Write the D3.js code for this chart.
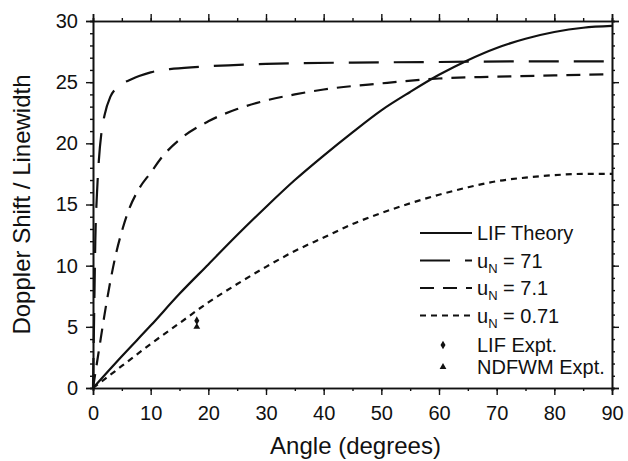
<!DOCTYPE html>
<html>
<head>
<meta charset="utf-8">
<script src="https://cdn.jsdelivr.net/npm/d3@7"></script>
<style>
  body { margin: 0; background: #fff; }
  text { font-family: "Liberation Sans", Arial, sans-serif; fill: #111; }
</style>
</head>
<body>
<div id="chart"></div>
<script>
var margin = {top: 21, right: 16, bottom: 73, left: 93},
    width = 628 - margin.left - margin.right,
    height = 461 - margin.top - margin.bottom;

// curves (angle in degrees, doppler shift / linewidth)
var lifAngles = [0, 5, 10, 15, 20, 25, 30, 35, 40, 45, 50, 55, 60, 65, 70, 75, 80, 85, 90];
var lifValues = [0, 2.6, 5.1, 7.7, 10.1, 12.5, 14.8, 17.0, 19.0, 20.9, 22.7, 24.2, 25.6, 26.8, 27.8, 28.55, 29.1, 29.45, 29.6];

var u71Angles = [0, 0.2, 0.4, 0.7, 1, 1.5, 2, 3, 4, 5, 6, 8, 10, 14, 20, 30, 45, 60, 75, 90];
var u71Values = [0, 6, 12, 16, 18.5, 21, 22.3, 23.8, 24.5, 24.9, 25.1, 25.5, 25.8, 26.1, 26.3, 26.5, 26.6, 26.65, 26.7, 26.7];

var u7Angles = [0, 1, 2, 3, 4, 5, 6, 8, 10, 12, 15, 20, 25, 30, 35, 40, 50, 60, 70, 80, 90];
var u7Values = [0, 3, 6, 8.7, 11, 12.8, 14.3, 16.3, 17.6, 18.9, 20.3, 21.8, 22.8, 23.5, 24.0, 24.4, 24.9, 25.3, 25.45, 25.55, 25.65];

var u07Angles = [0, 5, 10, 15, 20, 25, 30, 35, 40, 45, 50, 55, 60, 65, 70, 75, 80, 85, 90];
var u07Values = [0, 1.8, 3.6, 5.3, 7.0, 8.5, 9.9, 11.2, 12.3, 13.4, 14.3, 15.1, 15.8, 16.4, 16.9, 17.2, 17.4, 17.5, 17.5];

var lifExpt = [18, 5.5];
var ndfwmExpt = [18, 5.0];

var xTicks = [0, 10, 20, 30, 40, 50, 60, 70, 80, 90];
var yTicks = [0, 5, 10, 15, 20, 25, 30];

var svg = d3.select("#chart").append("svg")
  .attr("width", 628)
  .attr("height", 461)
  .append("g")
  .attr("transform", "translate(" + margin.left + "," + margin.top + ")");

var x = d3.scaleLinear().domain([0, 90]).range([0, width]);
var y = d3.scaleLinear().domain([0, 30]).range([height, 0]);

function zip(a, b) { return a.map(function(d, i) { return [d, b[i]]; }); }

// axes: minor + major ticks on all four sides, pointing outward
function drawAxis(axisFn, transform, scale, minor, major, labels, pad) {
  svg.append("g").attr("class", "axis").attr("transform", transform)
    .call(axisFn(scale).tickValues(minor).tickSize(3).tickFormat(""));
  svg.append("g").attr("class", "axis").attr("transform", transform)
    .call(axisFn(scale).tickValues(major).tickSize(7).tickPadding(pad || 3)
      .tickFormat(labels ? d3.format("d") : ""));
}
var xMinor = d3.range(0, 91, 5), yMinor = d3.range(0, 31, 1);
drawAxis(d3.axisBottom, "translate(0," + height + ")", x, xMinor, xTicks, true, 11);
drawAxis(d3.axisTop, "translate(0,0)", x, xMinor, xTicks, false);
drawAxis(d3.axisLeft, "translate(0,0)", y, yMinor, yTicks, true, 8);
drawAxis(d3.axisRight, "translate(" + width + ",0)", y, yMinor, yTicks, false);

svg.selectAll(".axis path").attr("stroke", "#111").attr("stroke-width", 1.6);
svg.selectAll(".axis line").attr("stroke", "#111").attr("stroke-width", 1.4);
svg.selectAll(".axis text").style("font-size", "20px").attr("fill", "#111");

var line = d3.line()
  .x(function(d) { return x(d[0]); })
  .y(function(d) { return y(d[1]); })
  .curve(d3.curveMonotoneX);

var series = [
  {name: "LIF Theory", data: zip(lifAngles, lifValues), dash: null, sub: false},
  {name: "71", data: zip(u71Angles, u71Values), dash: "30,15", sub: true},
  {name: "7.1", data: zip(u7Angles, u7Values), dash: "14,9", sub: true},
  {name: "0.71", data: zip(u07Angles, u07Values), dash: "6,5", sub: true}
];

series.forEach(function(s) {
  svg.append("path")
    .datum(s.data)
    .attr("fill", "none")
    .attr("stroke", "#111")
    .attr("stroke-width", 2.2)
    .attr("stroke-dasharray", s.dash)
    .attr("d", line);
});

// experimental points
svg.append("path")
  .attr("d", d3.symbol().type(d3.symbolDiamond).size(22))
  .attr("transform", "translate(" + x(lifExpt[0]) + "," + y(lifExpt[1]) + ")")
  .attr("fill", "#111");
svg.append("path")
  .attr("d", d3.symbol().type(d3.symbolTriangle).size(20))
  .attr("transform", "translate(" + x(ndfwmExpt[0]) + "," + y(ndfwmExpt[1]) + ")")
  .attr("fill", "#111");

// legend
var legend = svg.append("g").attr("transform", "translate(" + (420 - margin.left) + "," + (233 - margin.top) + ")");
var rowH = 27.5;
series.forEach(function(s, i) {
  var yy = i * rowH;
  legend.append("line")
    .attr("x1", 0).attr("x2", 52).attr("y1", yy).attr("y2", yy)
    .attr("stroke", "#111").attr("stroke-width", 2)
    .attr("stroke-dasharray", s.dash);
  var t = legend.append("text").attr("x", 57).attr("y", yy + 7).style("font-size", "20px");
  if (s.sub) {
    t.append("tspan").text("u");
    t.append("tspan").attr("dy", 5).style("font-size", "13px").text("N");
    t.append("tspan").attr("dy", -5).text(" = " + s.name);
  } else {
    t.text(s.name);
  }
});
legend.append("path")
  .attr("d", d3.symbol().type(d3.symbolDiamond).size(22))
  .attr("transform", "translate(23,112)").attr("fill", "#111");
legend.append("text").attr("x", 57).attr("y", 119).style("font-size", "20px").text("LIF Expt.");
legend.append("path")
  .attr("d", d3.symbol().type(d3.symbolTriangle).size(20))
  .attr("transform", "translate(23,134)").attr("fill", "#111");
legend.append("text").attr("x", 57).attr("y", 141).style("font-size", "20px").text("NDFWM Expt.");

// axis titles
svg.append("text")
  .attr("x", width / 2 + 3)
  .attr("y", height + 66)
  .attr("text-anchor", "middle")
  .style("font-size", "24px")
  .text("Angle (degrees)");

svg.append("text")
  .attr("transform", "translate(" + (30 - margin.left) + "," + (height / 2) + ") rotate(-90)")
  .attr("text-anchor", "middle")
  .style("font-size", "24px")
  .text("Doppler Shift / Linewidth");
</script>
</body>
</html>
